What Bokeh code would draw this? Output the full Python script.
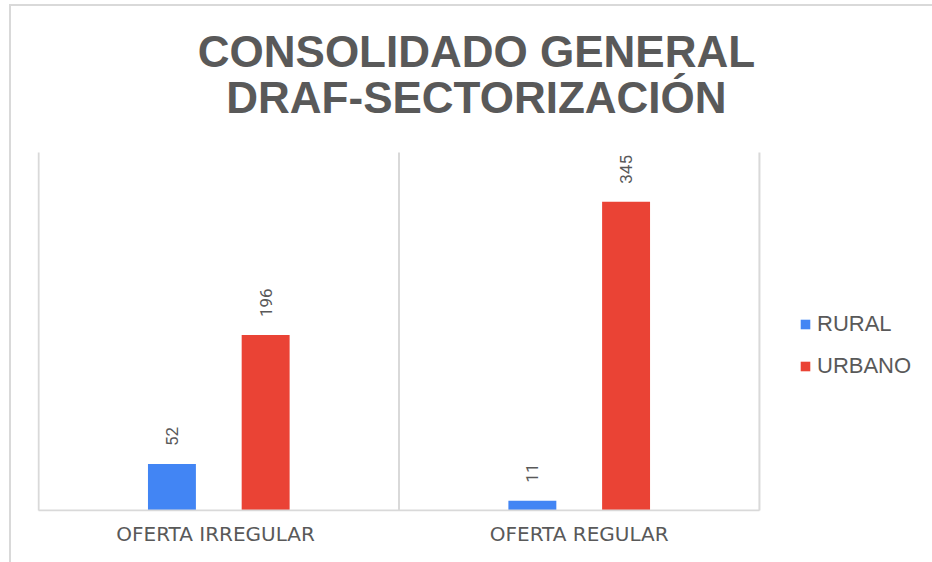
from math import pi
from bokeh.plotting import figure
from bokeh.models import (ColumnDataSource, Range1d, FixedTicker, Label,
                          Legend, LegendItem)
from bokeh.transform import dodge
from bokeh.core.properties import value
from bokeh.embed import file_html
from bokeh.resources import INLINE

# ---- data ----
categories = ["OFERTA  IRREGULAR", "OFERTA REGULAR"]
rural = [52, 11]
urbano = [196, 345]
series_names = ["RURAL", "URBANO"]
title_lines = ["CONSOLIDADO GENERAL", "DRAF-SECTORIZACIÓN"]
y_max = 400

colors = ["#4285F4", "#EA4335"]
gray = "#595959"
grid_col = "#d9d9d9"

xs = [i + 0.5 for i in range(len(categories))]
src = ColumnDataSource(data=dict(
    x=xs,
    cat=categories,
    rural=rural,
    urbano=urbano,
    rural_lbl=[str(v) for v in rural],
    urbano_lbl=[str(v) for v in urbano],
))

# frame covers the title area too; plot area is y 0..y_max
p = figure(width=932, height=562, output_backend="svg", toolbar_location=None,
           x_range=Range1d(-0.003, 2.433),
           y_range=Range1d(-1.1, 569.8),
           min_border_left=37, min_border_right=17,
           min_border_top=0, min_border_bottom=51)

p.outline_line_color = None
p.xgrid.visible = False
p.ygrid.visible = False
p.yaxis.visible = False
p.background_fill_alpha = 0
p.border_fill_alpha = 0
p.styles = {
    "background": "linear-gradient(#d9d9d9, #d9d9d9) 9px 4px / 2px 100% no-repeat, "
                  "linear-gradient(#d9d9d9, #d9d9d9) 9px 4px / 100% 2px no-repeat, white"
}

off = 0.13
bw = 0.133
r1 = p.vbar(x=dodge("x", -off), top="rural", width=bw,
            source=src, fill_color=colors[0], line_color=None)
r2 = p.vbar(x=dodge("x", off), top="urbano", width=bw,
            source=src, fill_color=colors[1], line_color=None)

for col, lbl, o in [("rural", "rural_lbl", -off), ("urbano", "urbano_lbl", off)]:
    p.text(x=dodge("x", o), y=col, text=lbl, source=src,
           angle=pi / 2, text_align="left", text_baseline="middle",
           y_offset=-18, text_font=value("Roboto"), text_font_size="17px",
           text_color=gray)

# category separators and baseline
seps = list(range(len(categories) + 1))
p.segment(x0=seps, y0=0, x1=seps, y1=y_max, line_color=grid_col, line_width=2)
p.segment(x0=0, y0=0, x1=len(categories), y1=0, line_color=grid_col,
          line_width=2)

ax = p.xaxis[0]
ax.ticker = FixedTicker(ticks=xs)
ax.major_label_overrides = {x: c for x, c in zip(xs, categories)}
ax.axis_line_color = None
ax.major_tick_line_color = None
ax.minor_tick_line_color = None
ax.major_tick_out = 0
ax.major_tick_in = 0
ax.major_label_text_font = "DejaVu Sans"
ax.major_label_text_font_size = "20px"
ax.major_label_text_color = gray
ax.major_label_standoff = 10

# two-line centred title
for txt, yy in zip(title_lines, [512.5, 461.5]):
    p.add_layout(Label(x=1.2148, y=yy, text=txt, text_align="center",
                       text_baseline="alphabetic", text_font="Liberation Sans",
                       text_font_style="bold", text_font_size="44px",
                       text_color=gray))

legend = Legend(items=[LegendItem(label=series_names[0], renderers=[r1]),
                       LegendItem(label=series_names[1], renderers=[r2])],
                location=(762, 132), orientation="vertical",
                glyph_width=12, glyph_height=12, label_height=22,
                label_standoff=6, spacing=16, padding=0, margin=0,
                label_text_font="Liberation Sans", label_text_font_size="22px",
                label_text_color=gray, border_line_color=None,
                background_fill_alpha=0)
p.add_layout(legend, "center")

open("out.html", "w").write(file_html(p, INLINE))
